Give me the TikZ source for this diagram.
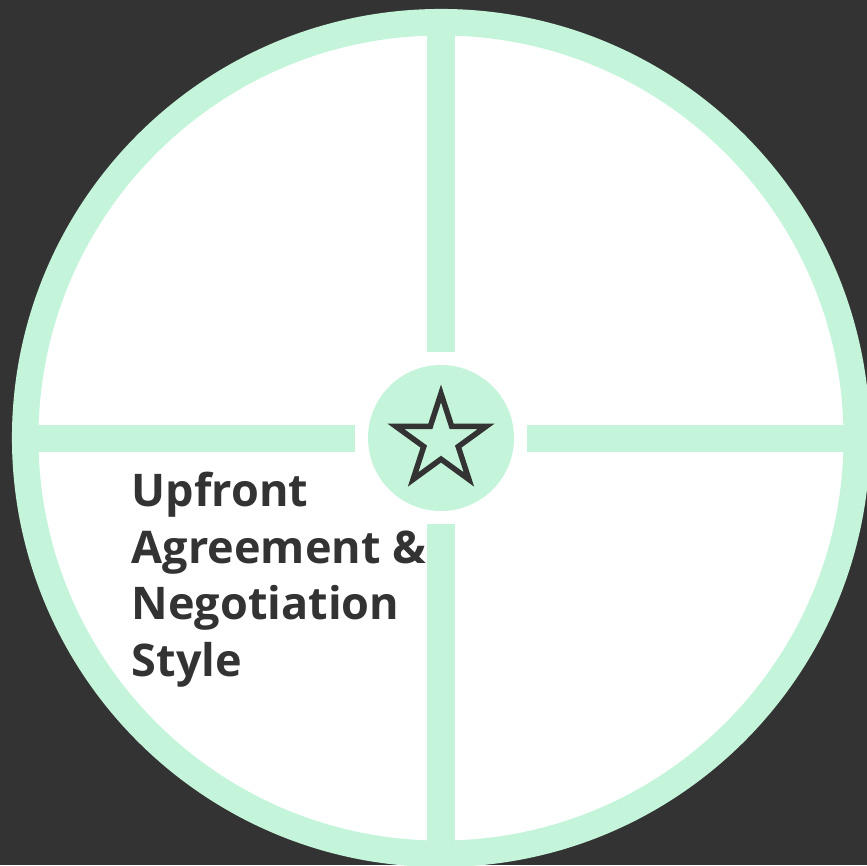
\documentclass[tikz,border=0pt]{standalone}
\usepackage{fontspec}
\setmainfont{Open Sans}
\usepackage{tikz}
\usetikzlibrary{shapes.geometric}
\definecolor{wheelMint}{RGB}{196,245,218}
\definecolor{wheelDark}{RGB}{51,51,51}

\begin{document}
\begin{tikzpicture}[x=1pt, y=1pt,
          spoke/.style={wheelMint, line width=27pt},
          hub/.style={circle, fill=wheelMint, minimum size=146pt,
            inner sep=0pt, outer sep=13pt},
          starmark/.style={star, star points=5, star point ratio=2.618,
            minimum size=95pt, inner sep=0pt, draw=wheelDark, line width=5.5pt},
          caption/.style={align=left, text=wheelDark, inner sep=0pt,
            font=\fontsize{45}{56.5}\selectfont\bfseries}
        ]
          \clip (-441,-427) rectangle (426,438);
          \fill[wheelDark] (-441,-427) rectangle (426,438);
          \draw[wheelMint, fill=white, line width=26.5pt] (0,0) circle[radius=415.8pt];
          \node[hub] (hub) at (0,0) {};
          \coordinate (rimN) at (0,416);
          \coordinate (rimS) at (0,-416);
          \coordinate (rimW) at (-416,0);
          \coordinate (rimE) at (416,0);
          \draw[spoke] (hub) -- (rimN);
          \draw[spoke] (hub) -- (rimS);
          \draw[spoke] (hub) -- (rimW);
          \draw[spoke] (hub) -- (rimE);
          \node[starmark] (icon) at (0,-3) {};
          \node[caption, anchor=base west] (label) at (-309.5,-238)
            {Upfront\\Agreement \&\\Negotiation\\Style};
        \end{tikzpicture}
\end{document}
